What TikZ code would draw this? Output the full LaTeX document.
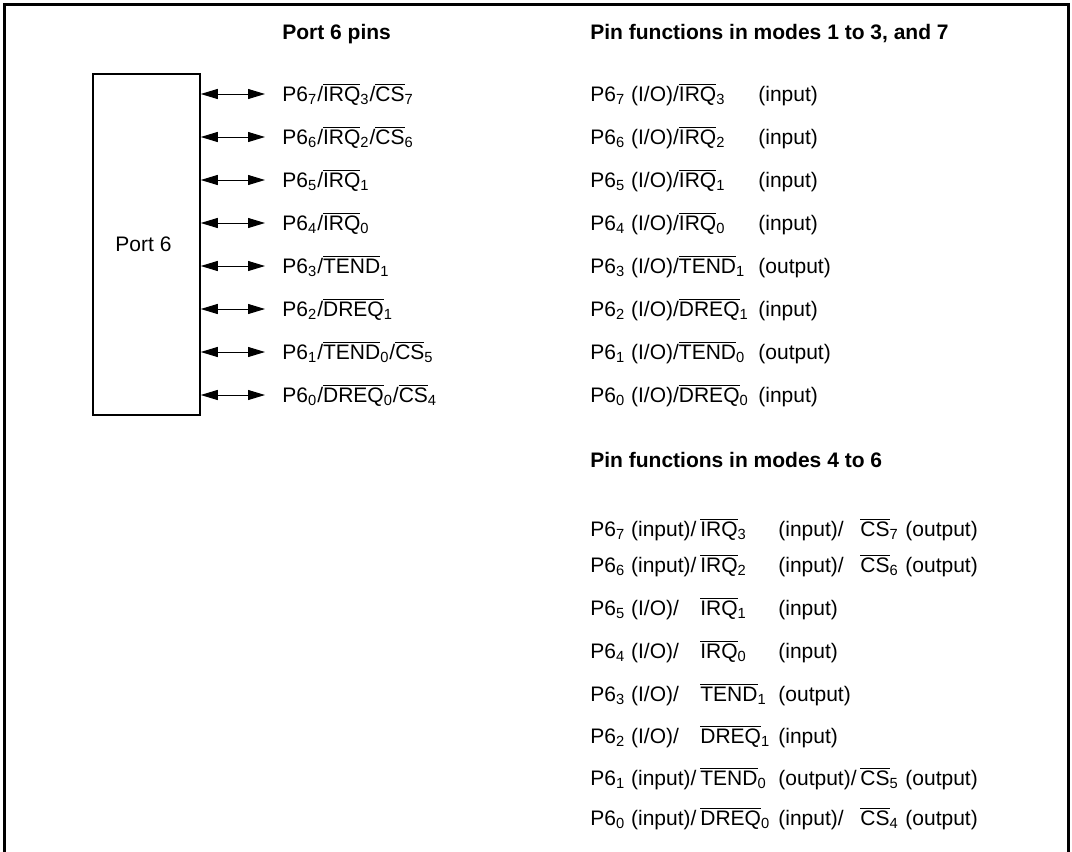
\documentclass[tikz,border=0pt]{standalone}
\usepackage{fontspec}
\setmainfont{Liberation Sans}
\usetikzlibrary{arrows.meta}
\newcommand{\inv}[1]{$\overline{\mbox{#1}}$}
\newcommand{\sx}[1]{\textsubscript{#1}}
\begin{document}
\begin{tikzpicture}[x=0.5pt,y=-0.5pt,
  every node/.style={font=\fontsize{10.5}{12.6}\selectfont},
  pinlabel/.style={anchor=west, inner sep=0pt, text height=7.5pt, text depth=0pt},
  heading/.style={pinlabel, font=\fontsize{10.5}{12.6}\selectfont\bfseries},
  pinarrow/.style={{Triangle[length=8.5pt,width=5pt]}-{Triangle[length=8.5pt,width=5pt]}, line width=0.5pt, shorten >=8.5pt}]
\useasboundingbox (0,0) rectangle (1072,852);
\draw[line width=1.5pt] (4.5,852) -- (4.5,4.5) -- (1068.5,4.5) -- (1068.5,852);
\node[heading] (h1) at (282,32) {Port 6 pins};
\node[heading] (h2) at (590,32) {Pin functions in modes 1 to 3, and 7};
\node[heading] (h3) at (590,460) {Pin functions in modes 4 to 6};
\node[draw, line width=0.75pt, minimum width=53.5pt, minimum height=170.5pt, inner sep=0pt] (port) at (146.5,244.5) {Port 6\hspace*{3pt}};
\node[pinlabel] (p7) at (282,94) {P6\sx{7}/\inv{IRQ}\sx{3}/\inv{CS}\sx{7}};
\node[pinlabel] (p6) at (282,137) {P6\sx{6}/\inv{IRQ}\sx{2}/\inv{CS}\sx{6}};
\node[pinlabel] (p5) at (282,180) {P6\sx{5}/\inv{IRQ}\sx{1}};
\node[pinlabel] (p4) at (282,223) {P6\sx{4}/\inv{IRQ}\sx{0}};
\node[pinlabel] (p3) at (282,266) {P6\sx{3}/\inv{TEND}\sx{1}};
\node[pinlabel] (p2) at (282,309) {P6\sx{2}/\inv{DREQ}\sx{1}};
\node[pinlabel] (p1) at (282,352) {P6\sx{1}/\inv{TEND}\sx{0}/\inv{CS}\sx{5}};
\node[pinlabel] (p0) at (282,395) {P6\sx{0}/\inv{DREQ}\sx{0}/\inv{CS}\sx{4}};
\draw[pinarrow] (port.east |- p7.west) -- (p7.west);
\draw[pinarrow] (port.east |- p6.west) -- (p6.west);
\draw[pinarrow] (port.east |- p5.west) -- (p5.west);
\draw[pinarrow] (port.east |- p4.west) -- (p4.west);
\draw[pinarrow] (port.east |- p3.west) -- (p3.west);
\draw[pinarrow] (port.east |- p2.west) -- (p2.west);
\draw[pinarrow] (port.east |- p1.west) -- (p1.west);
\draw[pinarrow] (port.east |- p0.west) -- (p0.west);
\node[pinlabel] (a7) at (590,94) {P6\sx{7} (I/O)/\inv{IRQ}\sx{3}};
\node[pinlabel] (b7) at (758,94) {(input)};
\node[pinlabel] (a6) at (590,137) {P6\sx{6} (I/O)/\inv{IRQ}\sx{2}};
\node[pinlabel] (b6) at (758,137) {(input)};
\node[pinlabel] (a5) at (590,180) {P6\sx{5} (I/O)/\inv{IRQ}\sx{1}};
\node[pinlabel] (b5) at (758,180) {(input)};
\node[pinlabel] (a4) at (590,223) {P6\sx{4} (I/O)/\inv{IRQ}\sx{0}};
\node[pinlabel] (b4) at (758,223) {(input)};
\node[pinlabel] (a3) at (590,266) {P6\sx{3} (I/O)/\inv{TEND}\sx{1}};
\node[pinlabel] (b3) at (758,266) {(output)};
\node[pinlabel] (a2) at (590,309) {P6\sx{2} (I/O)/\inv{DREQ}\sx{1}};
\node[pinlabel] (b2) at (758,309) {(input)};
\node[pinlabel] (a1) at (590,352) {P6\sx{1} (I/O)/\inv{TEND}\sx{0}};
\node[pinlabel] (b1) at (758,352) {(output)};
\node[pinlabel] (a0) at (590,395) {P6\sx{0} (I/O)/\inv{DREQ}\sx{0}};
\node[pinlabel] (b0) at (758,395) {(input)};
\node[pinlabel] (c7) at (590,529) {P6\sx{7} (input)/};
\node[pinlabel] (d7) at (700,529) {\inv{IRQ}\sx{3}};
\node[pinlabel] (e7) at (778,529) {(input)/};
\node[pinlabel] (f7) at (860,529) {\inv{CS}\sx{7}};
\node[pinlabel] (g7) at (905,529) {(output)};
\node[pinlabel] (c6) at (590,565) {P6\sx{6} (input)/};
\node[pinlabel] (d6) at (700,565) {\inv{IRQ}\sx{2}};
\node[pinlabel] (e6) at (778,565) {(input)/};
\node[pinlabel] (f6) at (860,565) {\inv{CS}\sx{6}};
\node[pinlabel] (g6) at (905,565) {(output)};
\node[pinlabel] (c5) at (590,608) {P6\sx{5} (I/O)/};
\node[pinlabel] (d5) at (700,608) {\inv{IRQ}\sx{1}};
\node[pinlabel] (e5) at (778,608) {(input)};
\node[pinlabel] (c4) at (590,651) {P6\sx{4} (I/O)/};
\node[pinlabel] (d4) at (700,651) {\inv{IRQ}\sx{0}};
\node[pinlabel] (e4) at (778,651) {(input)};
\node[pinlabel] (c3) at (590,694) {P6\sx{3} (I/O)/};
\node[pinlabel] (d3) at (700,694) {\inv{TEND}\sx{1}};
\node[pinlabel] (e3) at (778,694) {(output)};
\node[pinlabel] (c2) at (590,736) {P6\sx{2} (I/O)/};
\node[pinlabel] (d2) at (700,736) {\inv{DREQ}\sx{1}};
\node[pinlabel] (e2) at (778,736) {(input)};
\node[pinlabel] (c1) at (590,778) {P6\sx{1} (input)/};
\node[pinlabel] (d1) at (700,778) {\inv{TEND}\sx{0}};
\node[pinlabel] (e1) at (778,778) {(output)/};
\node[pinlabel] (f1) at (860,778) {\inv{CS}\sx{5}};
\node[pinlabel] (g1) at (905,778) {(output)};
\node[pinlabel] (c0) at (590,818) {P6\sx{0} (input)/};
\node[pinlabel] (d0) at (700,818) {\inv{DREQ}\sx{0}};
\node[pinlabel] (e0) at (778,818) {(input)/};
\node[pinlabel] (f0) at (860,818) {\inv{CS}\sx{4}};
\node[pinlabel] (g0) at (905,818) {(output)};
\end{tikzpicture}
\end{document}
